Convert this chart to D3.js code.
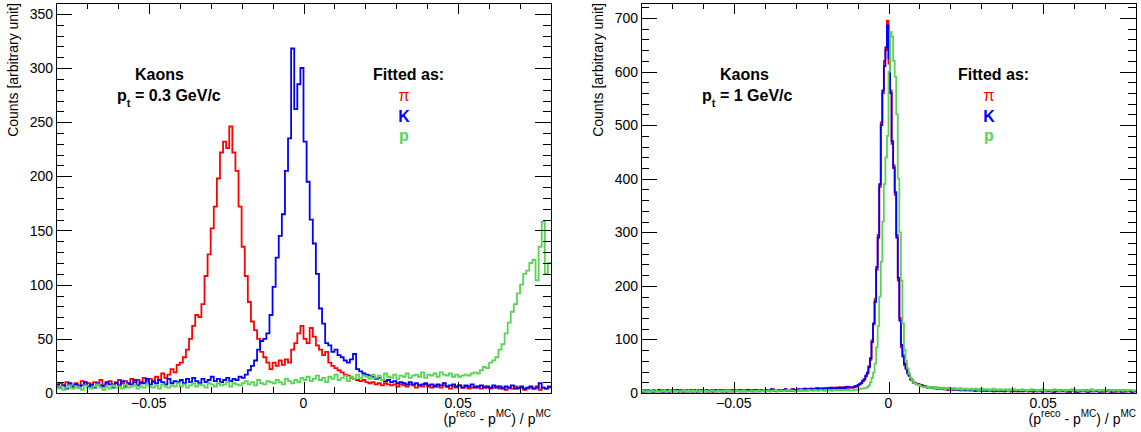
<!DOCTYPE html>
<html>
<head>
<meta charset="utf-8">
<script src="https://cdn.jsdelivr.net/npm/d3@7"></script>
<style>
body { margin: 0; background: #fff; }
text { font-family: "Liberation Sans", Arial, Helvetica, sans-serif; fill: #000; }
</style>
</head>
<body>
<svg id="chart" width="1141" height="432"></svg>
<script>
// histogram range, both panels
const xMin = -0.08, xMax = 0.08;

// left panel: pt = 0.3 GeV/c, bin width 0.001 (160 bins)
const leftBinWidth = 0.001;
const leftPion = [
  6,9,7,10,8,5,9,7,11,8, 9,6,10,8,12,7,9,11,8,10,
  12,9,11,8,13,10,12,9,14,11, 13,10,15,12,18,14,17,22,19,26,
  28,33,40,50,62,72,70,82,108,128, 152,172,198,222,232,226,246,222,205,172,
  135,108,84,66,58,50,38,33,28,22, 28,25,30,26,31,28,40,46,55,62,
  50,46,60,52,44,40,35,38,28,25, 23,21,19,17,16,14,13,12,11,12,
  10,9,10,8,9,7,9,8,7,8, 6,8,7,6,8,7,5,7,6,8,
  6,5,7,6,5,7,6,4,6,5, 7,5,6,4,5,6,5,4,6,5,
  4,5,6,4,5,3,5,4,6,4, 5,3,4,5,4,6,3,5,4,5
];
const leftKaon = [
  8,5,7,4,9,6,8,5,7,10, 6,8,5,9,7,6,10,8,5,9,
  7,11,6,9,8,12,7,10,9,13, 8,11,9,12,10,8,13,9,11,10,
  12,9,13,10,14,11,9,13,10,12, 15,11,13,10,12,14,11,13,12,15,
  14,17,21,25,30,40,48,50,55,72, 98,125,145,165,205,235,318,262,285,300,
  232,195,160,138,110,78,64,46,44,38, 40,35,33,30,28,31,36,22,20,18,
  17,16,15,13,14,12,11,12,10,11, 9,10,9,8,10,8,9,7,8,9,
  7,8,6,8,7,9,6,7,8,6, 7,5,7,6,8,5,6,7,5,6,
  5,7,5,6,4,6,5,7,4,5, 6,4,5,6,4,5,9,5,4,6
];
const leftProton = [
  4,6,3,5,7,4,6,5,3,7, 5,4,6,8,5,3,6,4,7,5,
  6,4,8,5,6,7,4,6,5,8, 6,5,7,4,8,6,5,7,6,9,
  6,8,5,7,9,6,8,7,5,9, 8,6,9,7,8,10,6,9,8,7,
  9,11,8,10,7,12,9,8,11,10, 9,12,10,8,13,11,9,12,10,14,
  12,15,11,13,16,12,14,10,15,13, 17,12,14,16,11,15,13,17,14,16,
  15,13,17,14,16,12,18,15,14,17, 13,16,15,18,14,16,17,15,19,14,
  17,16,18,15,19,17,16,18,15,17, 15,16,17,16,18,19,18,21,24,23,
  28,30,33,40,45,55,65,75,82,92, 100,110,113,120,123,104,135,158,110,120
];

// right panel: pt = 1 GeV/c, bin width 0.0005 (320 bins)
const rightBinWidth = 0.0005;
const rightPion = [
  4,2,5,3,6,4,3,5,2,4, 3,5,4,6,3,2,5,4,3,5, 4,6,3,5,4,3,6,2,5,4,
  5,3,4,2,6,4,5,3,4,5, 3,5,6,4,3,5,2,4,6,3, 4,6,3,5,4,2,5,6,3,5,
  6,4,5,3,5,6,4,5,3,6, 4,5,3,6,4,6,5,3,5,4, 5,4,6,3,5,7,4,6,5,4,
  6,5,4,7,5,6,4,7,5,6, 5,7,6,5,7,6,8,5,7,6, 8,7,6,9,7,8,6,9,8,7,
  9,8,10,8,9,10,8,9,11,10, 9,11,10,12,10,11,
  11,10,13,12,14,17,18,23,25,33, 36,50,62,98,128,175,230,295,385,505,
  560,620,640,695,615,565,465,425,370,295, 210,140,85,70,52,47,36,33,25,24,
  19,19,16,17,14,15,12,13,
  12,10,11,10,9,10,8,9,10,8, 8,9,7,8,6,8,7,6,7,8, 6,7,5,7,6,5,7,6,5,6,
  6,4,5,6,5,4,6,5,4,5, 4,5,6,3,5,4,5,3,6,4, 5,3,4,5,3,6,4,3,5,4,
  3,4,6,3,5,4,3,5,4,2, 5,3,4,6,3,4,5,3,4,5, 3,5,2,4,5,3,4,3,5,4,
  4,2,5,3,4,5,3,2,4,5, 3,4,5,3,2,4,6,3,4,3, 4,5,3,4,2,5,3,4,5,2,
  3,4,2,5,3,4,5,3,2,4, 3,5,4,2,4,3
];
const rightKaon = [
  3,5,2,4,6,3,4,2,5,3, 4,6,3,2,5,4,3,6,2,4, 5,3,4,6,2,5,3,4,3,5,
  2,4,6,3,5,4,2,5,3,6, 4,3,5,2,4,6,3,5,4,3, 5,4,2,6,3,5,4,3,6,4,
  3,5,4,6,3,4,5,3,6,4, 5,3,6,4,5,3,4,6,5,4, 3,6,4,5,7,4,5,3,6,5,
  4,6,5,7,4,5,6,4,7,5, 6,5,7,6,5,8,6,7,6,8, 7,6,8,7,9,7,8,7,8,9,
  8,9,8,10,9,8,10,9,10,9, 10,9,11,10,11,10,
  10,11,12,13,15,16,19,22,26,31, 38,48,65,95,130,170,235,290,390,500,
  565,610,645,686,625,560,470,420,375,290, 215,135,90,68,55,45,38,32,26,23,
  20,18,17,16,15,14,13,12,
  11,10,11,9,10,9,10,8,9,8, 9,8,7,8,7,8,6,7,8,6, 7,6,7,5,6,7,5,6,5,7,
  5,6,4,6,5,7,4,5,6,4, 5,6,4,5,3,6,4,5,4,6, 3,5,4,6,4,3,5,4,6,3,
  4,5,3,6,4,5,3,4,5,3, 6,4,3,5,4,2,5,4,3,6, 4,3,5,2,4,5,3,6,4,3,
  5,3,4,2,5,4,3,5,2,4, 3,5,4,3,6,2,4,5,3,4, 5,3,2,4,5,3,4,6,3,4,
  2,5,3,4,3,5,2,4,5,3, 4,3,5,2,4,3
];
const rightProton = [
  2,4,3,1,5,3,2,4,3,2, 4,3,2,5,3,4,2,3,5,3, 3,5,2,4,3,2,4,5,3,4,
  2,4,3,5,2,4,3,2,4,3, 5,3,4,2,3,5,4,3,2,4, 3,4,2,5,3,4,3,5,2,4,
  4,3,5,3,4,2,5,3,4,3, 3,5,4,2,4,3,5,4,3,5, 4,3,5,4,3,5,4,6,3,4,
  5,4,3,5,4,6,4,5,4,3, 4,5,4,6,5,4,5,4,6,5, 5,4,6,5,4,5,6,5,4,6,
  5,6,5,4,6,5,6,5,6,5, 6,5,6,5,6,5,
  5,5,6,6,7,7,8,8,9,9, 11,14,20,28,38,55,85,125,180,245,
  320,390,440,480,600,674,665,620,590,520, 400,300,210,130,80,60,46,36,28,24,
  20,18,16,15,14,12,12,11,
  10,12,9,11,10,8,11,9,10,8, 9,10,7,9,8,10,7,8,9,7, 8,7,9,6,8,7,8,6,7,8,
  6,7,8,6,7,5,8,6,7,6, 7,5,6,8,5,7,6,5,7,6, 5,7,6,4,7,5,6,7,5,6,
  6,5,7,5,6,4,6,5,7,5, 5,6,4,6,5,7,5,4,6,5, 6,4,5,7,5,6,4,5,6,5,
  4,6,5,5,7,4,6,5,4,6, 5,4,6,5,4,6,5,7,4,5, 6,5,4,6,5,4,6,5,4,6,
  5,4,6,5,4,5,6,4,5,6, 4,5,6,5,4,5
];

const seriesColors = ["#ff0000", "#0000ff", "#59d454"];
const fitLabels = ["\u03c0", "K", "p"];

const frameTop = 3, frameBottom = 393;

const panels = [
  {id: "l", left: 56, right: 551, yMax: 360, yMajor: 50, yMinor: 10,
   binWidth: leftBinWidth, series: [leftPion, leftKaon, leftProton], pt: " = 0.3 GeV/c"},
  {id: "r", left: 641, right: 1136, yMax: 728, yMajor: 100, yMinor: 20,
   binWidth: rightBinWidth, series: [rightPion, rightKaon, rightProton], pt: " = 1 GeV/c"}
];

const svg = d3.select("#chart");
const defs = svg.append("defs");

panels.forEach(function (p) {
  const x = d3.scaleLinear().domain([xMin, xMax]).range([p.left, p.right]);
  const y = d3.scaleLinear().domain([0, p.yMax]).range([frameBottom, frameTop]);
  const g = svg.append("g");

  defs.append("clipPath").attr("id", "clip-" + p.id)
    .append("rect")
    .attr("x", p.left).attr("y", frameTop)
    .attr("width", p.right - p.left).attr("height", frameBottom - frameTop);

  // histograms drawn as steps
  const line = d3.line()
    .x(d => x(d[0]))
    .y(d => y(d[1]))
    .curve(d3.curveStepAfter);

  p.series.forEach(function (vals, s) {
    const pts = vals.map((v, i) => [xMin + i * p.binWidth, v]);
    pts.push([xMin + vals.length * p.binWidth, vals[vals.length - 1]]);
    g.append("path")
      .attr("clip-path", "url(#clip-" + p.id + ")")
      .attr("d", line(pts))
      .attr("fill", "none")
      .attr("stroke", seriesColors[s])
      .attr("stroke-width", 1.8)
      .attr("stroke-linejoin", "miter");
  });

  // frame
  g.append("rect")
    .attr("x", p.left + 0.5).attr("y", frameTop + 0.5)
    .attr("width", p.right - p.left).attr("height", frameBottom - frameTop)
    .attr("fill", "none").attr("stroke", "#000").attr("stroke-width", 1)
    .attr("shape-rendering", "crispEdges");

  // x ticks, bottom and top
  const xTicks = d3.range(-8, 9).map(k => ({v: k / 100, major: k % 5 === 0}));
  xTicks.forEach(function (t) {
    const px = Math.round(x(t.v)) + 0.5;
    const len = t.major ? 11 : 6;
    g.append("line").attr("x1", px).attr("x2", px)
      .attr("y1", frameBottom).attr("y2", frameBottom - len)
      .attr("stroke", "#000").attr("shape-rendering", "crispEdges");
    g.append("line").attr("x1", px).attr("x2", px)
      .attr("y1", frameTop).attr("y2", frameTop + len)
      .attr("stroke", "#000").attr("shape-rendering", "crispEdges");
    if (t.major) {
      g.append("text")
        .attr("x", x(t.v)).attr("y", 408)
        .attr("text-anchor", "middle")
        .attr("font-size", 14)
        .text(t.v === 0 ? "0" : (t.v < 0 ? "\u22120.05" : "0.05"));
    }
  });

  // y ticks, left and right
  const yTicks = d3.range(0, p.yMax + 1, p.yMinor);
  yTicks.forEach(function (v) {
    const major = v % p.yMajor === 0;
    const py = Math.round(y(v)) + 0.5;
    const len = major ? 16 : 8;
    g.append("line").attr("x1", p.left).attr("x2", p.left + len)
      .attr("y1", py).attr("y2", py)
      .attr("stroke", "#000").attr("shape-rendering", "crispEdges");
    g.append("line").attr("x1", p.right).attr("x2", p.right - len)
      .attr("y1", py).attr("y2", py)
      .attr("stroke", "#000").attr("shape-rendering", "crispEdges");
    if (major) {
      g.append("text")
        .attr("x", p.left - 3).attr("y", y(v))
        .attr("dy", "0.36em")
        .attr("text-anchor", "end")
        .attr("font-size", 14)
        .text(v);
    }
  });

  // axis titles
  g.append("text")
    .attr("transform", "translate(" + (p.left - 38) + "," + frameTop + ") rotate(-90)")
    .attr("text-anchor", "end")
    .attr("font-size", 14)
    .text("Counts [arbitrary unit]");

  const xt = g.append("text")
    .attr("x", p.right).attr("y", 424)
    .attr("text-anchor", "end")
    .attr("font-size", 14);
  xt.append("tspan").text("(p");
  xt.append("tspan").attr("font-size", 10).attr("dy", -7).text("reco");
  xt.append("tspan").attr("dy", 7).text(" - p");
  xt.append("tspan").attr("font-size", 10).attr("dy", -7).text("MC");
  xt.append("tspan").attr("dy", 7).text(") / p");
  xt.append("tspan").attr("font-size", 10).attr("dy", -7).text("MC");

  // labels
  const off = p.left - 56;
  g.append("text")
    .attr("x", 135 + off).attr("y", 80)
    .attr("font-size", 16).attr("font-weight", "bold")
    .text("Kaons");
  const ptText = g.append("text")
    .attr("x", 117 + off).attr("y", 101)
    .attr("font-size", 16).attr("font-weight", "bold");
  ptText.append("tspan").text("p");
  ptText.append("tspan").attr("font-size", 11).attr("dy", 6).text("t");
  ptText.append("tspan").attr("dy", -6).text(p.pt);

  g.append("text")
    .attr("x", 373 + off).attr("y", 80)
    .attr("font-size", 16).attr("font-weight", "bold")
    .text("Fitted as:");
  const labelY = [101, 122, 141];
  fitLabels.forEach(function (lab, s) {
    g.append("text")
      .attr("x", 404 + off).attr("y", labelY[s])
      .attr("text-anchor", "middle")
      .attr("font-size", 16)
      .attr("font-weight", s === 0 ? "normal" : "bold")
      .attr("font-family", s === 0 ? "'DejaVu Serif', serif" : null)
      .style("fill", seriesColors[s])
      .text(lab);
  });
});
</script>
</body>
</html>
